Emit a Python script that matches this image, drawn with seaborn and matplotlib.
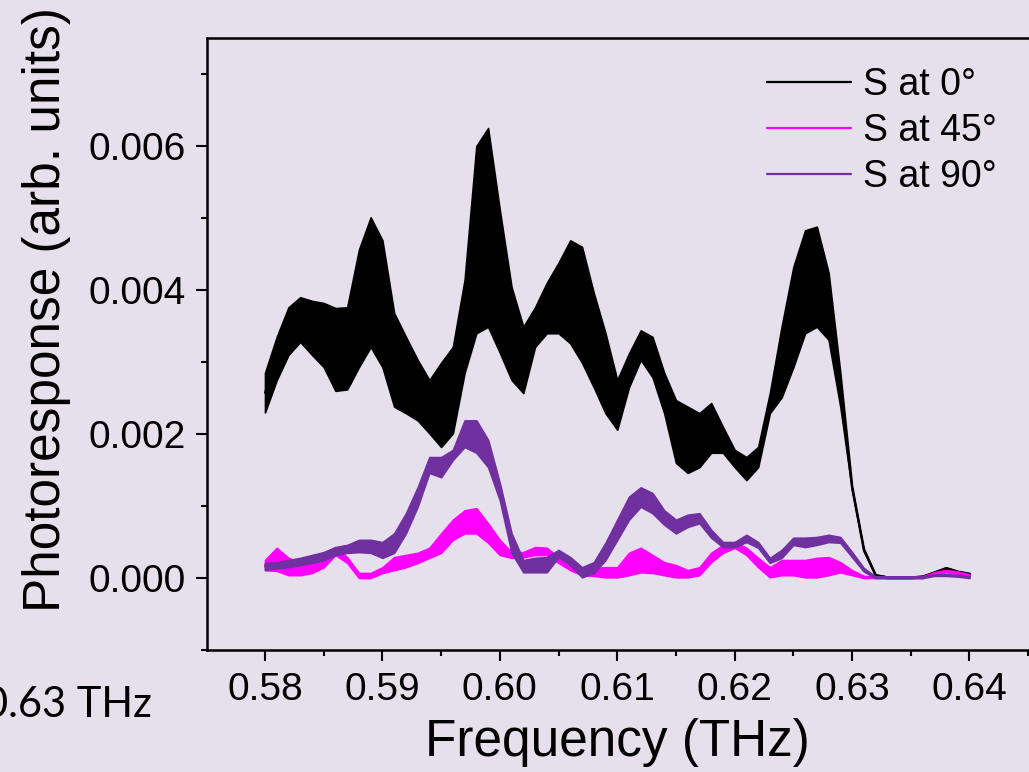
import numpy as np
import pandas as pd
import matplotlib.pyplot as plt
import seaborn as sns
from matplotlib.ticker import MultipleLocator

# Frequency grid (THz) and envelope of each noisy trace (x 1e-3 arb. units)
freq = np.linspace(0.58, 0.64, 61)

s0_upper = [2.85, 3.35, 3.76, 3.90, 3.85, 3.82, 3.75, 3.76, 4.56, 5.01,
            4.69, 3.68, 3.35, 3.03, 2.75, 2.99, 3.21, 4.14, 6.00, 6.25,
            5.11, 4.04, 3.49, 3.76, 4.10, 4.38, 4.69, 4.60, 3.96, 3.40,
            2.75, 3.12, 3.44, 3.35, 2.85, 2.47, 2.38, 2.29, 2.43, 2.10,
            1.78, 1.68, 1.82, 2.57, 3.49, 4.32, 4.83, 4.88, 4.24, 2.85,
            1.28, 0.41, 0.05, 0.02, 0.02, 0.02, 0.03, 0.09, 0.15, 0.10, 0.07]
s0_lower = [2.30, 2.75, 3.10, 3.28, 3.10, 2.93, 2.60, 2.62, 2.93, 3.21,
            2.93, 2.38, 2.29, 2.19, 2.01, 1.82, 2.01, 2.85, 3.40, 3.49,
            3.13, 2.75, 2.57, 3.21, 3.40, 3.40, 3.26, 2.99, 2.65, 2.29,
            2.06, 2.65, 3.03, 2.79, 2.29, 1.60, 1.46, 1.54, 1.74, 1.74,
            1.54, 1.36, 1.54, 2.29, 2.51, 2.93, 3.40, 3.49, 3.31, 2.38,
            1.22, 0.37, 0.03, 0.00, 0.00, 0.00, 0.01, 0.06, 0.12, 0.07, 0.04]

s45_upper = [0.25, 0.42, 0.28, 0.21, 0.25, 0.35, 0.43, 0.29, 0.07, 0.07,
             0.15, 0.29, 0.32, 0.35, 0.42, 0.62, 0.81, 0.94, 0.97, 0.76,
             0.53, 0.36, 0.36, 0.43, 0.42, 0.29, 0.21, 0.14, 0.14, 0.15,
             0.15, 0.35, 0.42, 0.32, 0.22, 0.18, 0.11, 0.15, 0.35, 0.46,
             0.50, 0.42, 0.28, 0.15, 0.25, 0.25, 0.25, 0.28, 0.29, 0.22,
             0.11, 0.03, 0.02, 0.02, 0.02, 0.02, 0.02, 0.08, 0.11, 0.09, 0.05]
s45_lower = [0.11, 0.10, 0.04, 0.04, 0.07, 0.15, 0.32, 0.21, 0.00, 0.00,
             0.07, 0.11, 0.15, 0.21, 0.28, 0.35, 0.53, 0.62, 0.62, 0.49,
             0.32, 0.28, 0.29, 0.32, 0.32, 0.21, 0.11, 0.04, 0.03, 0.01,
             0.01, 0.04, 0.08, 0.07, 0.04, 0.01, 0.01, 0.04, 0.22, 0.35,
             0.42, 0.32, 0.15, 0.01, 0.04, 0.04, 0.01, 0.01, 0.04, 0.08,
             0.04, 0.00, 0.00, 0.00, 0.00, 0.00, 0.00, 0.05, 0.08, 0.06, 0.03]

s90_upper = [0.21, 0.22, 0.25, 0.28, 0.32, 0.36, 0.43, 0.46, 0.53, 0.53,
             0.50, 0.62, 0.90, 1.26, 1.68, 1.68, 1.78, 2.19, 2.19, 1.92,
             1.32, 0.62, 0.25, 0.28, 0.29, 0.39, 0.29, 0.15, 0.22, 0.49,
             0.81, 1.13, 1.26, 1.18, 0.94, 0.81, 0.88, 0.90, 0.67, 0.50,
             0.50, 0.60, 0.50, 0.28, 0.39, 0.56, 0.56, 0.57, 0.60, 0.57,
             0.36, 0.14, 0.02, 0.02, 0.02, 0.02, 0.02, 0.05, 0.05, 0.04, 0.02]
s90_lower = [0.11, 0.14, 0.15, 0.18, 0.21, 0.25, 0.32, 0.35, 0.36, 0.35,
             0.28, 0.35, 0.62, 0.99, 1.46, 1.40, 1.64, 1.82, 1.74, 1.54,
             1.08, 0.35, 0.08, 0.08, 0.08, 0.29, 0.18, 0.01, 0.07, 0.25,
             0.53, 0.81, 0.99, 0.90, 0.74, 0.62, 0.71, 0.76, 0.56, 0.43,
             0.43, 0.50, 0.42, 0.21, 0.28, 0.46, 0.43, 0.46, 0.50, 0.49,
             0.29, 0.09, 0.00, 0.00, 0.00, 0.00, 0.00, 0.03, 0.03, 0.02, 0.00]

labels = ['S at 0°', 'S at 45°', 'S at 90°']
colors = ['#000000', '#FF00FF', '#7030A0']
envelopes = [(s0_upper, s0_lower), (s45_upper, s45_lower), (s90_upper, s90_lower)]

bg = '#E5E0EC'
sns.set_style('ticks')
plt.rcParams['font.family'] = ['Liberation Sans', 'DejaVu Sans']
plt.rcParams['axes.linewidth'] = 1.8
plt.rcParams['axes.edgecolor'] = 'black'
plt.rcParams['text.color'] = 'black'
plt.rcParams['axes.labelcolor'] = 'black'
plt.rcParams['xtick.color'] = 'black'
plt.rcParams['ytick.color'] = 'black'

fig = plt.figure(figsize=(10.29, 7.72), dpi=100, facecolor=bg)
ax = fig.add_axes([0.2012, 0.158, 0.8037, 0.7927])
ax.set_facecolor(bg)

for i, (lab, col, (up, lo)) in enumerate(zip(labels, colors, envelopes)):
    df = pd.DataFrame({
        'freq': np.concatenate([freq, freq]),
        'resp': np.concatenate([up, lo]) * 1e-3,
    })
    sns.lineplot(data=df, x='freq', y='resp', ax=ax, color=col, label=lab,
                 errorbar=('pi', 100), linewidth=1.5, zorder=3 + i,
                 err_kws={'alpha': 1, 'linewidth': 1.2, 'edgecolor': col, 'zorder': 3 + i})

ax.set_xlim(0.575064, 0.6455)
ax.set_ylim(-0.001, 0.0075)
ax.xaxis.set_major_locator(MultipleLocator(0.01))
ax.xaxis.set_minor_locator(MultipleLocator(0.005))
ax.yaxis.set_major_locator(MultipleLocator(0.002))
ax.yaxis.set_minor_locator(MultipleLocator(0.001))
ax.xaxis.set_major_formatter(plt.FuncFormatter(lambda v, p: f'{v:.2f}'))
ax.yaxis.set_major_formatter(plt.FuncFormatter(lambda v, p: f'{v:.3f}'))
ax.tick_params(which='major', direction='out', length=8, width=1.5, labelsize=28, pad=7)
ax.tick_params(axis='x', which='major', pad=8)
ax.tick_params(which='minor', direction='out', length=4, width=1.5)
ax.spines['right'].set_visible(False)
ax.grid(False)

ax.set_xlabel('Frequency (THz)', fontsize=37)
ax.set_ylabel('Photoresponse (arb. units)', fontsize=37)
ax.xaxis.set_label_coords(0.4958, -0.111)
ax.yaxis.set_label_coords(-0.164, 0.556)

leg = ax.legend(loc='upper left', bbox_to_anchor=(0.7454, 0.913), bbox_transform=fig.transFigure,
                frameon=False, fontsize=27, handlelength=2.24, handletextpad=0.32,
                labelspacing=0.27, borderpad=0, borderaxespad=0)
for ln in leg.get_lines():
    ln.set_linewidth(1.6)

fig.text(152 / 1029, 1 - 705 / 772, '0.63 THz', fontsize=30, family=['Lato', 'DejaVu Sans'],
         ha='right', va='center')

fig.savefig('out.png', dpi=100, facecolor=bg)
